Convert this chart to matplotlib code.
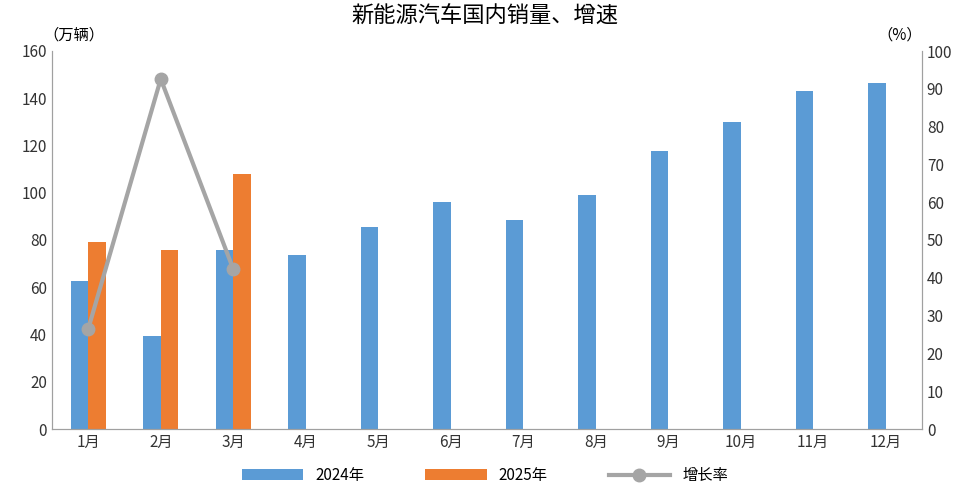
import matplotlib
matplotlib.use("Agg")
import matplotlib.pyplot as plt
from matplotlib import font_manager as fm
import numpy as np

cjk = [f for f in fm.fontManager.ttflist if 'CJK' in f.name]
fams = []
for pref in ('Noto Sans CJK SC', 'Noto Serif CJK SC', 'Noto Sans CJK JP'):
    if any(f.name == pref for f in cjk):
        fams.append(pref)
if not fams and cjk:
    fams.append(cjk[0].name)
if not cjk:
    import glob
    for p in glob.glob('/usr/share/fonts/**/*CJK*', recursive=True):
        try:
            fm.fontManager.addfont(p)
        except Exception:
            pass
    cjk = [f for f in fm.fontManager.ttflist if 'CJK' in f.name]
    if cjk:
        fams.append(cjk[0].name)
plt.rcParams['font.family'] = fams + ['DejaVu Sans']

months = ['1月','2月','3月','4月','5月','6月','7月','8月','9月','10月','11月','12月']
sales_2024 = [62.6, 39.4, 75.8, 73.7, 85.5, 96.1, 88.5, 99.0, 117.7, 130.0, 143.0, 146.5]
sales_2025 = [79.2, 75.8, 107.9]
growth = [26.5, 92.6, 42.3]

fig = plt.figure(figsize=(9.7, 4.93), dpi=100)
ax = fig.add_axes([52/970, 1-429/493, 870/970, 378/493])
ax2 = ax.twinx()
x = np.arange(len(months))
w = 0.24
ax.bar(x - w/2, sales_2024, w, color='#5B9BD5', label='2024年', zorder=2)
ax.bar(x[:3] + w/2, sales_2025, w, color='#ED7D31', label='2025年', zorder=2)
ax2.plot(x[:3], growth, color='#A5A5A5', lw=3, marker='o', ms=9, label='增长率', zorder=3)

ax.set_xlim(-0.5, 11.5)
ax.set_ylim(0, 160)
ax.set_yticks(range(0, 161, 20))
ax2.set_ylim(0, 100)
ax2.set_yticks(range(0, 101, 10))
ax.set_xticks(x)
ax.set_xticklabels(months)
for a in (ax, ax2):
    a.tick_params(length=0, labelsize=11, colors='#333333')
    a.spines['top'].set_visible(False)
    for s in ('left', 'right', 'bottom'):
        a.spines[s].set_color('#A0A0A0')
ax.text(-0.01, 1.02, '（万辆）', transform=ax.transAxes, fontsize=11, ha='left', va='bottom')
ax.text(1.0, 1.02, '（%）', transform=ax.transAxes, fontsize=11, ha='right', va='bottom')
fig.suptitle('新能源汽车国内销量、增速', fontsize=16, y=0.99)

h1, l1 = ax.get_legend_handles_labels()
h2, l2 = ax2.get_legend_handles_labels()
fig.legend(h1 + h2, l1 + l2, loc='lower center', ncol=3, frameon=False,
           fontsize=11, bbox_to_anchor=(0.5, -0.01), columnspacing=4, handlelength=4)
fig.savefig('out.png', dpi=100)
